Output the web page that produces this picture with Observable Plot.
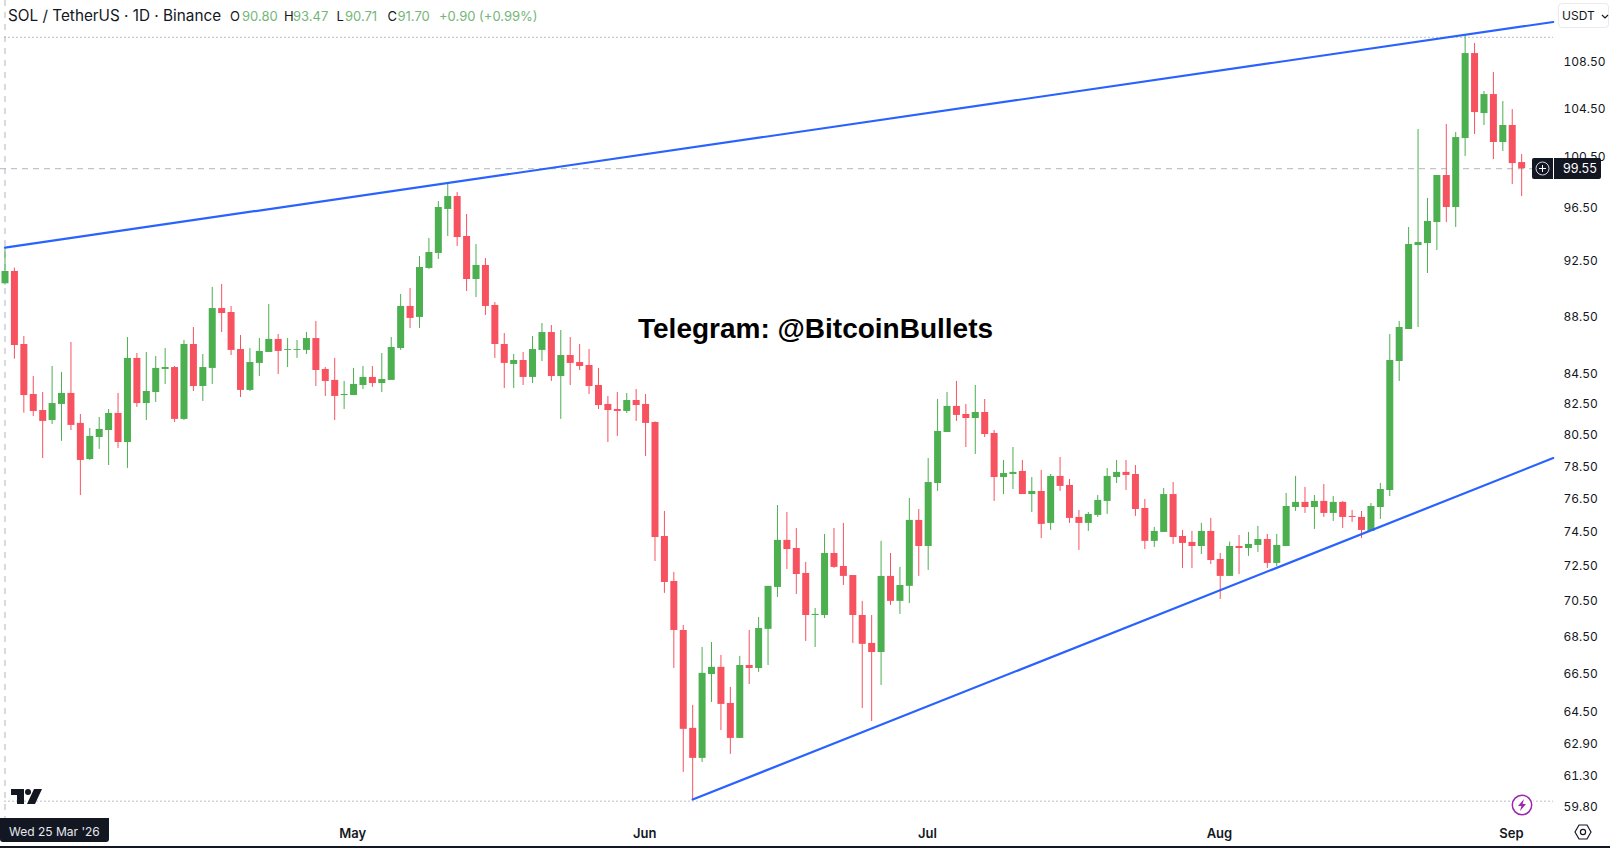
<!doctype html><html><head><meta charset="utf-8">
<style>
html,body{margin:0;padding:0;background:#fff;overflow:hidden}
#wrap{position:relative;width:1610px;height:848px;font-family:Inter,sans-serif;color:#131722}
#wrap svg{display:block}
.t{position:absolute;white-space:nowrap;line-height:1}
</style>
<script src="https://cdn.jsdelivr.net/npm/d3@7"></script>
<script src="https://cdn.jsdelivr.net/npm/@observablehq/plot@0.6"></script>
</head><body><div id="wrap"></div>
<script>
const opens=[90.80,91.70,86.50,83.11,82.05,81.40,82.45,83.18,81.21,78.90,80.30,80.75,81.86,79.98,85.54,82.51,83.24,84.79,84.92,81.47,86.50,83.64,84.86,89.02,88.74,86.15,83.38,85.20,85.95,86.85,86.09,86.09,86.09,86.91,84.79,84.05,83.04,83.04,83.71,84.25,83.84,84.05,86.22,89.17,88.39,91.92,93.03,96.36,97.36,94.30,91.11,92.14,89.24,86.50,85.13,85.40,84.25,86.09,87.33,84.31,85.74,85.26,85.06,83.71,82.45,82.12,81.99,82.71,82.45,81.27,74.19,71.57,68.82,63.64,62.13,66.44,66.82,64.92,63.13,66.92,66.76,68.88,71.23,73.96,73.48,72.03,69.65,69.65,73.19,72.43,71.91,69.65,68.11,67.62,71.86,70.44,71.29,75.15,73.60,77.40,80.62,82.32,81.79,81.53,81.92,80.56,77.77,77.96,78.15,76.72,76.91,74.97,77.84,77.28,75.33,74.97,75.45,76.30,77.77,78.09,77.96,75.87,73.90,74.43,76.72,74.19,73.84,73.60,74.49,72.84,71.86,73.60,73.48,73.66,74.01,72.61,73.60,75.93,76.24,75.93,76.30,75.57,76.24,75.39,75.33,74.49,75.93,76.97,85.33,87.54,93.62,93.77,95.36,99.01,96.51,101.98,109.15,104.04,105.63,101.66,103.05,100.04];
const highs=[93.47,91.94,87.05,84.31,83.24,84.99,84.58,86.64,81.79,80.88,81.60,82.12,83.18,86.98,85.88,85.95,85.67,86.22,84.99,86.78,87.68,85.81,90.53,90.75,89.17,87.12,86.22,86.91,89.31,87.19,86.91,86.78,87.33,88.10,84.92,85.54,83.98,84.86,84.99,84.99,85.88,86.98,90.03,90.46,92.80,94.15,96.97,98.30,97.67,95.97,93.70,92.65,89.45,87.26,85.81,85.95,87.05,87.96,87.82,87.47,86.98,86.50,86.15,84.86,82.98,83.24,83.18,83.44,83.11,81.31,75.69,72.09,69.10,64.82,67.89,68.16,67.46,65.76,67.41,68.82,69.54,71.29,76.05,75.63,74.67,72.67,70.04,74.31,74.67,74.97,71.91,70.44,69.65,73.90,73.19,72.38,76.48,75.81,78.96,82.78,83.24,83.98,82.45,83.71,82.78,80.75,78.84,79.66,78.84,77.77,78.21,77.96,79.03,77.65,75.75,75.63,76.66,78.34,78.84,78.84,78.52,76.42,74.73,77.09,77.46,74.55,74.49,74.97,75.27,73.19,73.86,74.25,74.43,74.79,74.31,74.31,76.79,77.84,77.16,76.66,77.34,76.60,76.30,75.75,75.69,76.17,77.40,87.19,88.10,94.98,102.72,97.21,99.01,103.13,102.47,110.73,110.03,105.89,107.51,105.04,104.37,100.69];
const lows=[90.71,85.49,81.88,81.66,78.96,81.14,80.05,80.75,76.66,78.84,79.54,78.52,79.60,78.34,82.25,81.40,82.58,83.78,81.27,81.40,83.31,82.65,83.78,87.33,85.74,82.91,83.31,84.31,85.95,84.45,84.92,85.54,85.81,83.64,82.98,81.40,82.12,83.04,83.44,83.58,83.24,84.05,86.09,87.61,87.61,91.84,92.58,94.30,93.55,90.24,89.81,88.53,85.54,83.51,83.51,83.71,83.84,85.33,83.98,81.47,83.71,84.72,83.11,82.12,79.98,80.37,81.86,81.34,79.09,72.72,70.89,66.76,61.44,60.12,61.93,64.97,63.53,62.33,63.13,65.91,66.55,66.92,70.66,72.26,70.83,68.22,67.89,69.48,72.32,71.34,68.11,64.66,63.99,65.86,70.21,69.71,70.32,71.86,72.20,76.91,80.75,81.34,79.66,79.22,80.30,76.30,76.72,77.03,76.72,75.63,74.07,74.55,76.91,74.97,73.37,74.49,75.33,75.51,77.40,76.97,75.39,73.42,73.54,74.43,73.72,72.32,72.32,73.13,72.55,70.55,71.86,71.97,73.02,73.25,72.32,72.43,73.60,75.69,75.57,74.61,75.33,75.09,74.67,75.03,74.07,74.49,75.21,76.60,83.98,87.54,87.68,91.55,93.25,95.36,94.98,100.53,102.31,103.05,100.28,100.93,98.30,97.36];
const closes=[91.70,86.43,83.04,81.99,81.34,82.51,83.18,81.08,78.84,80.37,80.82,81.86,79.98,85.54,82.51,83.31,84.86,84.92,81.47,86.50,83.64,84.92,89.02,88.67,86.09,83.38,85.26,86.02,86.85,86.02,86.15,86.15,86.91,84.72,83.98,82.98,83.11,83.78,84.25,83.84,84.11,86.29,89.17,88.32,91.99,93.10,96.51,97.36,94.22,91.11,92.14,89.17,86.50,85.20,85.40,84.25,86.15,87.33,84.31,85.74,85.20,84.99,83.64,82.38,82.05,81.99,82.71,82.38,81.21,74.13,71.51,68.82,63.59,62.13,66.50,66.82,64.87,63.13,66.92,66.76,68.93,71.29,73.96,73.42,71.97,69.65,69.71,73.19,72.38,71.86,69.65,68.06,67.62,71.86,70.44,71.34,75.15,73.60,77.46,80.69,82.32,81.73,81.53,81.92,80.49,77.77,78.02,78.09,76.72,76.91,74.91,77.84,77.22,75.27,74.97,75.51,76.36,77.84,78.09,77.90,75.81,73.90,74.49,76.72,74.13,73.78,73.60,74.49,72.78,71.86,73.60,73.48,73.72,74.01,72.61,73.66,75.99,76.24,75.93,76.30,75.57,76.24,75.33,75.33,74.55,75.99,77.03,85.40,87.68,93.70,93.85,95.44,99.01,96.51,102.06,109.15,104.12,105.63,101.66,103.05,99.96,99.55];
const yTicks=[59.8,61.3,62.9,64.5,66.5,68.5,70.5,72.5,74.5,76.5,78.5,80.5,82.5,84.5,88.5,92.5,96.5,100.5,104.5,108.5];
const monthTicks=[new Date(Date.UTC(2026,4,1)),new Date(Date.UTC(2026,5,1)),new Date(Date.UTC(2026,6,1)),new Date(Date.UTC(2026,7,1)),new Date(Date.UTC(2026,8,1))];
const upper=[{date:new Date("2026-03-25T00:00Z"),price:93.47},{date:new Date("2026-09-05T08:24Z"),price:111.94}];
const lower=[{date:new Date("2026-06-06T00:00Z"),price:60.12},{date:new Date("2026-09-05T08:24Z"),price:78.99}];
const rangeHigh=110.58, rangeLow=60.04, lastPrice=99.55;
const UP="#4caf50", DOWN="#f7525f", BLUE="#2962ff";
const DAY=864e5, start=Date.UTC(2026,2,25);
const candles=opens.map((o,i)=>({date:new Date(start+i*DAY),o,h:highs[i],l:lows[i],c:closes[i]}));
const col=d=>d.c>=d.o?UP:DOWN;
const xEnd=new Date(start+164.38*DAY);
const plot=Plot.plot({
  width:1610,height:848,marginTop:0,marginLeft:0,marginRight:57,marginBottom:28,
  style:{background:"#fff",fontFamily:"Inter,sans-serif",color:"#131722"},
  x:{type:"utc",domain:[new Date(start-0.4775*DAY),xEnd]},
  y:{type:"log",domain:[59.12,113.88]},
  color:{type:"identity"},
  marks:[
    Plot.axisY({anchor:"right",ticks:yTicks,tickFormat:d3.format(".2f"),tickSize:0,tickPadding:10,textAnchor:"start",fontSize:12,dy:0.8,label:null,fill:"#131722"}),
    Plot.axisX({ticks:monthTicks,tickFormat:d3.utcFormat("%b"),tickSize:0,tickPadding:8,dx:-0.8,fontSize:13,fontWeight:600,label:null,fill:"#131722"}),
    Plot.ruleY([rangeHigh,rangeLow],{x1:candles[0].date,x2:xEnd,stroke:"#787b86",strokeWidth:1,strokeDasharray:"1,3"}),
    Plot.ruleY([lastPrice],{stroke:"#b2b5be",strokeWidth:1,strokeDasharray:"6,5"}),
    Plot.ruleX([candles[0].date],{stroke:"#b2b5be",strokeWidth:1,strokeDasharray:"6,6"}),
    Plot.ruleX(candles,{x:"date",y1:"l",y2:"h",stroke:col,strokeWidth:1}),
    Plot.ruleX(candles,{x:"date",y1:"o",y2:"c",stroke:col,strokeWidth:7}),
    Plot.line(upper,{x:"date",y:"price",stroke:BLUE,strokeWidth:2.2}),
    Plot.line(lower,{x:"date",y:"price",stroke:BLUE,strokeWidth:2.2})
  ]
});
const w=document.getElementById("wrap");w.appendChild(plot);
function put(html,css){const e=document.createElement("div");e.className="t";e.style.cssText=css;e.innerHTML=html;w.appendChild(e);return e}
const G="#74b678";
put("SOL / TetherUS · 1D · Binance","left:8px;top:8px;font-size:15.3px");
[["O",230,"#131722"],["90.80",242,G],["H",284,"#131722"],["93.47",293,G],["L",336.5,"#131722"],["90.71",345,G],["C",387.5,"#131722"],["91.70",397.5,G],["+0.90 (+0.99%)",439,G]]
 .forEach(([s,x,c])=>put(s,`left:${x}px;top:9.5px;font-size:13px;color:${c}`));
put(`USDT<svg width="8" height="5" viewBox="0 0 8 5" style="position:absolute;left:42px;top:10px"><path d="M1 1l3 3 3-3" fill="none" stroke="#131722" stroke-width="1.2"/></svg>`,"left:1558px;top:3px;width:51px;height:25px;border:1px solid #e8eaf0;border-radius:4px;box-sizing:border-box;background:#fff;font-size:12px;line-height:23px;padding-left:3px");
put("Telegram: @BitcoinBullets","left:638px;top:313px;font:bold 28px 'Liberation Sans',sans-serif;color:#000");
put(`<svg width="69" height="21" viewBox="0 0 69 21" style="display:block"><rect width="69" height="21" rx="2" fill="#131722"/><rect x="21" width="1" height="21" fill="#fff"/><circle cx="10.5" cy="10.5" r="6.5" fill="none" stroke="#d1d4dc" stroke-width="1"/><path d="M10.5 7v7M7 10.5h7" stroke="#fff" stroke-width="1"/></svg><span style="position:absolute;left:31px;top:4.5px;font-size:12.5px;color:#fff">99.55</span>`,"left:1532px;top:158px;width:69px;height:21px");
put("Wed 25 Mar '26","left:0;top:818px;width:109px;height:24px;background:#131722;color:#e6e8ee;border-radius:0 0 3px 3px;font-size:12px;line-height:24px;padding:2px 0 0 9px;box-sizing:border-box");
put(`<svg width="32" height="17" viewBox="0 0 32 17"><path d="M0 0h13v15H6V6H0z" fill="#131722"/><circle cx="17" cy="3" r="3" fill="#131722"/><path d="M23 0h8l-7 15h-8z" fill="#131722"/></svg>`,"left:11px;top:789px");
put(`<svg width="24" height="24" viewBox="0 0 24 24" style="display:block"><circle cx="12" cy="12" r="11" fill="none" stroke="#fff" stroke-width="2"/><circle cx="12" cy="12" r="9.7" fill="#fff" stroke="#9c27b0" stroke-width="1.5"/><path d="M14 6l-6 7h3.4L10 18l6-7h-3.4z" fill="#9c27b0"/></svg>`,"left:1510px;top:793px");
put(`<svg width="18" height="16" viewBox="0 0 18 16" style="display:block"><path d="M1 8l4-7h8l4 7-4 7H5z" fill="none" stroke="#131722" stroke-width="1.2"/><circle cx="9" cy="8" r="2.6" fill="none" stroke="#131722" stroke-width="1.2"/></svg>`,"left:1574px;top:824px");
put("","left:0;top:846px;width:1610px;height:2px;background:#131722");
</script></body></html>
